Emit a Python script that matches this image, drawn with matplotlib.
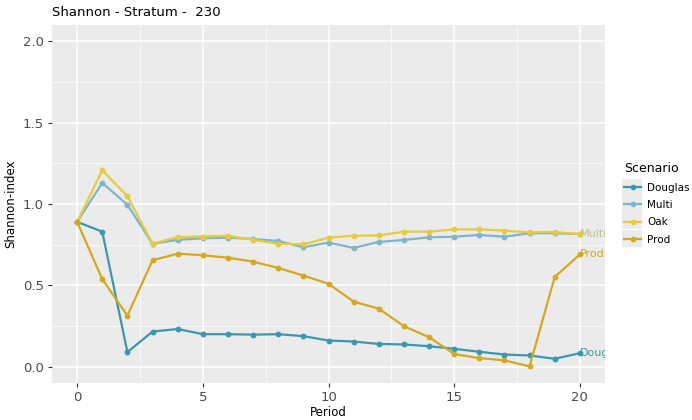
import numpy as np
import matplotlib
matplotlib.use("Agg")
import matplotlib.pyplot as plt
from matplotlib.lines import Line2D
from matplotlib.patches import Rectangle

periods = list(range(21))

douglas = [0.89, 0.83, 0.09, 0.216, 0.232, 0.20, 0.20, 0.197, 0.20, 0.188, 0.161,
           0.155, 0.14, 0.137, 0.126, 0.11, 0.092, 0.075, 0.069, 0.049, 0.083]
multi = [0.89, 1.13, 0.995, 0.755, 0.78, 0.789, 0.793, 0.785, 0.773, 0.734, 0.763,
         0.73, 0.767, 0.779, 0.795, 0.799, 0.81, 0.799, 0.82, 0.821, 0.815]
oak = [0.89, 1.207, 1.048, 0.756, 0.797, 0.80, 0.805, 0.78, 0.756, 0.752, 0.793,
       0.805, 0.807, 0.83, 0.83, 0.844, 0.844, 0.836, 0.826, 0.828, 0.815]
prod = [0.89, 0.538, 0.314, 0.654, 0.695, 0.685, 0.67, 0.646, 0.607, 0.56, 0.51,
        0.40, 0.357, 0.249, 0.182, 0.078, 0.053, 0.039, 0.002, 0.552, 0.69]

scenarios = ["Douglas", "Multi", "Oak", "Prod"]
series = [douglas, multi, oak, prod]
colors = ["#3a98ae", "#7db6cc", "#e6cb3c", "#d6a91c"]
end_labels = ["Dougl", "Multi", "", "Prod"]
label_colors = ["#3a98ae", "#b9c58a", None, "#d6a91c"]

fig = plt.figure(figsize=(6.92, 4.2), dpi=100)
ax = fig.add_axes([52 / 692, 1 - 383 / 420, 553 / 692, 358 / 420])
ax.set_facecolor("#ebebeb")
for s in ax.spines.values():
    s.set_visible(False)

ax.set_xlim(-1, 21)
ax.set_ylim(-0.1, 2.1)
ax.set_xticks([0, 5, 10, 15, 20])
ax.set_yticks([0.0, 0.5, 1.0, 1.5, 2.0])
ax.set_yticklabels(["0.0", "0.5", "1.0", "1.5", "2.0"])
ax.set_xticks([2.5, 7.5, 12.5, 17.5], minor=True)
ax.set_yticks([0.25, 0.75, 1.25, 1.75], minor=True)
ax.grid(which="major", color="white", linewidth=1.1)
ax.grid(which="minor", color="white", linewidth=0.5)
ax.set_axisbelow(True)
ax.tick_params(which="major", length=3, color="#333333", labelsize=9.5,
               labelcolor="#4d4d4d", pad=3)
ax.tick_params(which="minor", length=0)

for name, vals, c, lab, lc in zip(scenarios, series, colors, end_labels, label_colors):
    ax.plot(periods, vals, color=c, linewidth=1.6, marker="o", markersize=3.2)
    if lab:
        ax.text(20, vals[-1], lab, color=lc, fontsize=8, va="center", ha="left",
                clip_on=True)

ax.set_xlabel("Period", fontsize=8.5, labelpad=1)
ax.set_ylabel("Shannon-index", fontsize=8.5)
fig.text(52 / 692, 1 - 13 / 420, "Shannon - Stratum -  230", fontsize=9.5,
         va="center", ha="left")

# grey key boxes behind the legend entries
for i in range(len(scenarios)):
    yc = 187 + 17 * i
    fig.patches.append(Rectangle((622 / 692, 1 - (yc + 8.5) / 420), 20 / 692, 17 / 420,
                                 transform=fig.transFigure, facecolor="#ebebeb",
                                 edgecolor="none", zorder=0))

handles = [Line2D([0], [0], color=c, linewidth=1.6, marker="o", markersize=3)
           for c in colors]
leg = fig.legend(handles, scenarios, title="Scenario", loc="upper left",
                 bbox_to_anchor=(615 / 692, 1 - 153 / 420), frameon=False,
                 fontsize=7.5, title_fontsize=9, handlelength=1.6,
                 handletextpad=0.6, labelspacing=0.7, alignment="left")

fig.savefig("out.png", dpi=100)
